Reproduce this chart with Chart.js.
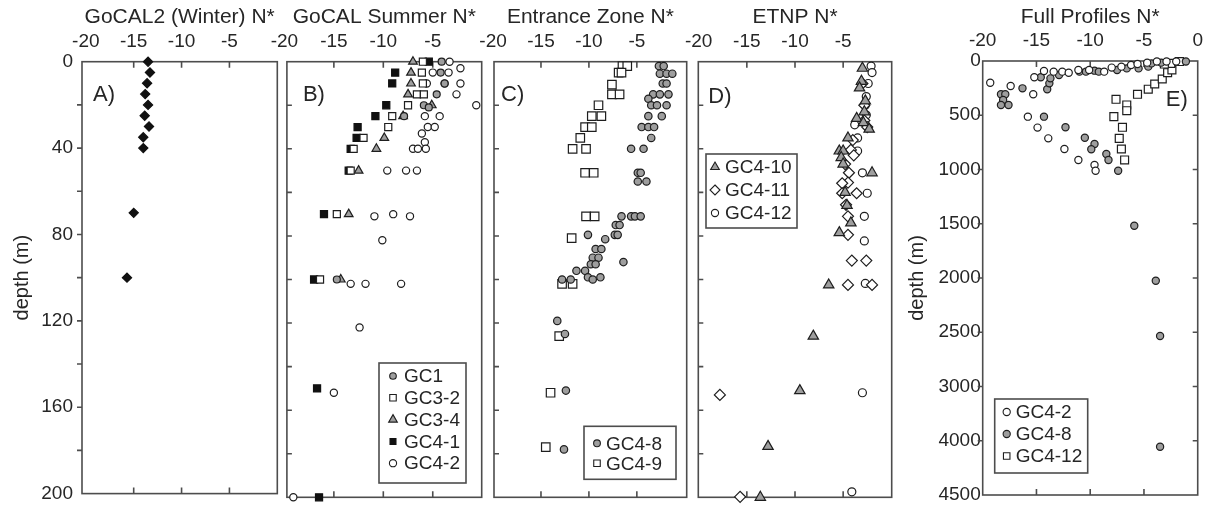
<!DOCTYPE html>
<html><head><meta charset="utf-8">
<script src="https://cdn.jsdelivr.net/npm/chart.js@4.4.1/dist/chart.umd.min.js"></script>
<style>
html,body{margin:0;padding:0;background:#fff;}
#wrap{position:relative;width:1212px;height:514px;overflow:hidden;background:#fff;}
canvas{position:absolute;top:0;}
</style></head><body><div id="wrap">
<canvas id="cA"></canvas><canvas id="cB"></canvas><canvas id="cC"></canvas><canvas id="cD"></canvas><canvas id="cE"></canvas>
</div>
<script>
// ---------------- DATA ----------------
// Panel titles
const titles = ['GoCAL2 (Winter) N*', 'GoCAL Summer N*', 'Entrance Zone N*', 'ETNP N*', 'Full Profiles N*'];
const letters = ['A)', 'B)', 'C)', 'D)', 'E)'];
// tick labels
const xTicksAD = [-20, -15, -10, -5];
const xTicksE = [-20, -15, -10, -5, 0];
const yTicksA = [0, 40, 80, 120, 160, 200];
const yTickValuesE = [0, 500, 1000, 1500, 2000, 2500, 3000, 3500, 4000];
const yTickLabelsE = ['0', '500', '1000', '1500', '2000', '2500', '3000', '4000', '4500'];

// Panel A: GoCAL2 winter
const depthA = [0, 5, 10, 15, 20, 25, 30, 35, 40, 70, 100];
const nA = [-13.5, -13.3, -13.6, -13.8, -13.5, -13.85, -13.4, -14.0, -14.0, -15.0, -15.7];

// Panel B: GoCAL summer
const depthB_GC1 = [0, 5, 10, 15, 20, 21, 25, 100];
const nB_GC1 = [-4.1, -4.2, -3.8, -4.6, -5.9, -5.4, -7.9, -14.7];
const depthB_GC32 = [0, 5, 10, 15, 15, 20, 25, 30, 35, 40, 50, 70, 100];
const nB_GC32 = [-6.0, -6.1, -6.0, -6.6, -5.9, -7.5, -9.1, -9.5, -12.0, -13.0, -13.3, -14.7, -16.4];
const depthB_GC34 = [0, 5, 10, 15, 20, 25, 35, 40, 50, 70, 100];
const nB_GC34 = [-7.0, -7.2, -7.2, -7.5, -5.1, -8.0, -9.9, -10.7, -12.5, -13.5, -14.3];
const depthB_GC41 = [0, 5, 10, 20, 25, 30, 35, 40, 50, 70, 100, 150, 200];
const nB_GC41 = [-5.4, -8.8, -9.1, -9.7, -10.8, -12.6, -12.7, -13.3, -13.5, -16.0, -17.0, -16.7, -16.5];
const depthB_GC42 = [0, 3, 5, 5, 10, 10, 10, 15, 20, 25, 25, 30, 30, 33, 37, 40, 40, 40, 50, 50, 50, 70, 71, 71, 82, 102, 102, 102, 122, 152, 200];
const nB_GC42 = [-3.3, -2.2, -5.0, -3.4, -5.6, -3.8, -2.2, -2.6, -0.6, -5.8, -4.3, -5.5, -4.8, -6.1, -5.8, -7.0, -6.5, -5.7, -9.6, -7.7, -6.6, -9.0, -10.9, -7.3, -10.1, -13.3, -11.8, -8.2, -12.4, -15.0, -19.1];

// Panel C: Entrance zone
const depthC_GC48 = [2, 2, 5.5, 5.5, 5.5, 10, 10, 15, 15, 15, 17, 20, 20, 20, 25, 25, 30, 30, 30, 35, 40, 40, 51, 51, 55, 55, 71, 71, 71, 71, 75, 75, 79.5, 79.5, 79.5, 81.5, 86, 86, 90, 90, 92, 93, 93, 96, 96, 99, 99, 100, 100, 100, 119, 125, 151, 178];
const nC_GC48 = [-2.7, -2.2, -2.6, -1.9, -1.3, -2.3, -1.9, -3.3, -2.6, -1.7, -3.8, -3.5, -2.9, -1.9, -3.8, -2.4, -4.5, -3.8, -3.2, -3.5, -5.6, -4.3, -4.9, -4.6, -4.9, -4.0, -6.6, -5.6, -5.2, -4.6, -7.2, -6.8, -10.1, -7.3, -7.0, -8.3, -9.3, -8.7, -9.6, -9.0, -6.4, -9.8, -9.3, -11.3, -10.4, -10.1, -8.8, -12.8, -11.9, -9.6, -13.3, -12.5, -12.4, -12.6];
const depthC_GC49 = [2, 2, 5, 5, 10.5, 15, 15, 20, 25, 25, 30, 30, 35, 40, 40, 51, 51, 71, 71, 81, 102, 102, 126, 152, 177];
const nC_GC49 = [-6.5, -6.0, -6.9, -6.6, -7.6, -7.6, -6.8, -9.0, -9.7, -8.7, -10.4, -9.7, -10.9, -11.7, -10.3, -10.4, -9.5, -10.3, -9.4, -11.8, -12.8, -11.7, -13.1, -14.0, -14.5];

// Panel D: ETNP
const depthD_GC410 = [3, 9, 12, 18, 23, 26, 28, 31, 35, 41, 41, 44, 47, 51, 60, 66, 74, 78.5, 102.5, 126, 151, 176.6, 200];
const nD_GC410 = [-3.0, -3.1, -3.3, -2.7, -2.8, -3.6, -2.9, -2.3, -4.5, -5.4, -5.0, -5.2, -5.0, -2.0, -4.8, -4.6, -4.2, -5.4, -6.5, -8.1, -9.5, -12.8, -13.6];
const depthD_GC411 = [10, 20, 27, 30, 36, 40.5, 43, 47, 51, 55.5, 55.8, 60.4, 60.4, 65.7, 71, 79.5, 91.3, 91.3, 102.5, 102.5, 153, 199.8];
const nD_GC411 = [-3.0, -2.8, -2.8, -2.5, -4.0, -4.2, -3.9, -4.8, -4.4, -4.5, -5.1, -5.1, -3.6, -4.7, -4.5, -4.5, -4.1, -2.6, -4.5, -2.0, -17.8, -15.7];
const depthD_GC412 = [2, 5, 10, 16, 20, 24.5, 29, 35, 41, 51, 60.4, 71, 82.3, 101.8, 152, 197.5];
const nD_GC412 = [-2.1, -2.0, -2.4, -2.6, -2.7, -2.6, -3.8, -3.5, -3.5, -3.0, -2.5, -2.8, -2.8, -2.7, -3.0, -4.1];

// Panel E: full profiles
const depthE_GC42 = [200, 230, 307, 150, 92, 98, 98, 108, 83, 83, 98, 61, 52, 37, 28, 15, 5, 5, 5, 513, 614, 713, 811, 912, 959, 1011];
const nE_GC42 = [-19.3, -17.4, -15.3, -15.2, -14.3, -13.4, -12.6, -12.0, -11.1, -10.1, -8.7, -8.0, -7.1, -6.2, -5.6, -4.7, -3.8, -2.9, -2.0, -15.8, -14.9, -13.9, -12.4, -11.1, -9.6, -9.5];
const depthE_GC48 = [307, 307, 359, 405, 405, 252, 260, 206, 160, 150, 129, 98, 98, 89, 98, 83, 68, 68, 52, 22, 15, 5, 513, 611, 707, 765, 814, 857, 912, 1011, 1518, 2025, 2535, 3555];
const nE_GC48 = [-18.3, -17.9, -18.1, -18.3, -17.6, -16.3, -14.0, -13.8, -13.7, -14.6, -12.9, -11.0, -10.4, -9.6, -9.2, -7.5, -6.6, -5.5, -4.6, -4.3, -3.4, -1.1, -14.3, -12.3, -10.5, -9.6, -9.9, -8.5, -8.3, -7.4, -5.9, -3.9, -3.5, -3.5];
const depthE_GC412 = [353, 405, 458, 513, 611, 713, 811, 912, 307, 260, 212, 166, 108, 83, 22, 28, 5];
const nE_GC412 = [-7.6, -6.6, -6.6, -7.8, -7.0, -7.3, -7.1, -6.8, -5.6, -4.6, -4.0, -3.3, -2.8, -2.4, -2.5, -3.1, -1.7];

// ---------------- STYLE ----------------
const FONT = "'Liberation Sans', Arial, Helvetica, sans-serif";
const TEXT = '#262626';
const FRAME = '#4d4d4d';
const EDGE = '#1e1e1e';
const GRAY = '#9e9e9e';

const STY = {
  grayCircle:   {pointStyle: 'circle',   backgroundColor: GRAY,   borderColor: EDGE},
  openCircle:   {pointStyle: 'circle',   backgroundColor: '#fff', borderColor: EDGE},
  openSquare:   {pointStyle: 'rect',     backgroundColor: '#fff', borderColor: EDGE},
  grayTri:      {pointStyle: 'triangle', backgroundColor: GRAY,   borderColor: EDGE},
  blackSquare:  {pointStyle: 'rect',     backgroundColor: '#111', borderColor: '#111'},
  blackDiamond: {pointStyle: 'rectRot',  backgroundColor: '#111', borderColor: '#111'},
  openDiamond:  {pointStyle: 'rectRot',  backgroundColor: '#fff', borderColor: EDGE}
};

function pts(ns, ds) { return ns.map((v, i) => ({x: v, y: ds[i]})); }
function ds(label, ns, dsArr, sty, r, lr) {
  return Object.assign({label, data: pts(ns, dsArr), pointRadius: r, pointHoverRadius: r,
    borderWidth: 1.2, showLine: false, clip: false, legendRadius: lr}, sty);
}

function drawMarker(ctx, style, x, y, r, fill, stroke, lw) {
  ctx.save();
  ctx.fillStyle = fill; ctx.strokeStyle = stroke; ctx.lineWidth = lw;
  ctx.beginPath();
  if (style === 'circle') { ctx.arc(x, y, r, 0, Math.PI * 2); }
  else if (style === 'rect') { const s = r * Math.SQRT2; ctx.rect(x - s / 2, y - s / 2, s, s); }
  else if (style === 'triangle') {
    for (let k = 0; k < 3; k++) { const a = -Math.PI / 2 + k * 2 * Math.PI / 3; const px = x + Math.cos(a) * r, py = y + Math.sin(a) * r; k ? ctx.lineTo(px, py) : ctx.moveTo(px, py); }
    ctx.closePath();
  } else if (style === 'rectRot') {
    ctx.moveTo(x, y - r); ctx.lineTo(x + r, y); ctx.lineTo(x, y + r); ctx.lineTo(x - r, y); ctx.closePath();
  }
  ctx.fill(); ctx.stroke(); ctx.restore();
}

const panelPlugin = {
  id: 'panel',
  beforeDatasetsDraw(chart, args, o) {
    const {ctx, chartArea: a, scales: {x, y}} = chart;
    ctx.save();
    ctx.strokeStyle = FRAME; ctx.lineWidth = 1.6;
    ctx.strokeRect(a.left, a.top, a.right - a.left, a.bottom - a.top);
    ctx.beginPath();
    (o.xMarks || []).forEach(v => {
      const px = x.getPixelForValue(v);
      ctx.moveTo(px, a.top); ctx.lineTo(px, a.top + 6);
      ctx.moveTo(px, a.bottom); ctx.lineTo(px, a.bottom - 6);
    });
    (o.yMarksLeft || []).forEach(v => {
      const py = y.getPixelForValue(v);
      ctx.moveTo(a.left, py); ctx.lineTo(a.left + (o.leftOut ? -5 : 5), py);
    });
    (o.yMarksRight || []).forEach(v => {
      const py = y.getPixelForValue(v);
      ctx.moveTo(a.right, py); ctx.lineTo(a.right - 5, py);
    });
    ctx.stroke();
    ctx.restore();
  },
  afterDraw(chart, args, o) {
    const {ctx, chartArea: a} = chart;
    ctx.save();
    ctx.fillStyle = TEXT;
    ctx.font = '22px ' + FONT;
    ctx.textBaseline = 'middle'; ctx.textAlign = 'left';
    const lx = o.letterRight ? a.right - o.letterDx : a.left + o.letterDx;
    ctx.fillText(o.letter, lx, a.top + o.letterDy);
    const L = o.legend;
    if (L) {
      const bx = L.right != null ? a.right - L.right - L.w : a.left + L.left;
      const by = L.bottom != null ? a.bottom - L.bottom - L.h : a.top + L.top;
      ctx.fillStyle = '#fff';
      ctx.fillRect(bx, by, L.w, L.h);
      ctx.strokeStyle = FRAME; ctx.lineWidth = 1.6;
      ctx.strokeRect(bx, by, L.w, L.h);
      ctx.font = '19px ' + FONT;
      chart.data.datasets.forEach((d, i) => {
        const yy = by + L.row0 + i * L.gap;
        drawMarker(ctx, d.pointStyle, bx + L.mx, yy, d.legendRadius, d.backgroundColor, d.borderColor, 1.1);
        ctx.fillStyle = TEXT;
        ctx.fillText(d.label, bx + L.tx, yy + 1);
      });
    }
    ctx.restore();
  }
};

function makePanel(p) {
  const cv = document.getElementById(p.id);
  cv.width = p.width; cv.height = 514;
  cv.style.left = p.left + 'px'; cv.style.width = p.width + 'px'; cv.style.height = '514px';
  const tickFont = {family: FONT, size: 19};
  return new Chart(cv, {
    type: 'scatter',
    data: {datasets: p.datasets},
    plugins: [panelPlugin],
    options: {
      responsive: false, animation: false, devicePixelRatio: 1,
      layout: {padding: {left: 0, top: 0, right: p.left + p.width - p.box.r, bottom: 514 - p.box.b}},
      plugins: {
        legend: {display: false}, tooltip: {enabled: false},
        panel: p.panel
      },
      scales: {
        x: {
          type: 'linear', position: 'top', min: p.xMin, max: p.xMax,
          grid: {display: false, drawTicks: false}, border: {display: false},
          afterBuildTicks: s => { s.ticks = p.xTicks.map(v => ({value: v})); },
          afterFit: s => { s.height = p.box.t; },
          ticks: {autoSkip: false, maxRotation: 0, minRotation: 0, padding: 9, color: TEXT, font: tickFont,
                  callback: v => String(v)},
          title: {display: true, text: p.title, color: TEXT, font: {family: FONT, size: 21}, padding: {top: 5, bottom: 0}}
        },
        y: {
          type: 'linear', position: 'left', reverse: true, min: p.yMin, max: p.yMax,
          grid: {display: false, drawTicks: false}, border: {display: false},
          afterBuildTicks: s => { s.ticks = p.yTicks.map(v => ({value: v})); },
          afterFit: s => { s.width = p.box.l - p.left; },
          ticks: {display: p.showY, autoSkip: false, padding: p.yPad, color: TEXT, font: tickFont,
                  callback: (v, i) => p.yLabels ? p.yLabels[i] : String(v)},
          title: {display: !!p.yTitle, text: p.yTitle || '', color: TEXT, font: {family: FONT, size: 20}, padding: {top: 10, bottom: 0}}
        }
      }
    }
  });
}

const marks20 = [20, 40, 60, 80, 100, 120, 140, 160, 180];

makePanel({
  id: 'cA', left: 0, width: 285, box: {l: 82, r: 277.3, t: 61.7, b: 497.3},
  xMin: -20.4, xMax: 0, yMin: 0, yMax: 200, xTicks: xTicksAD, yTicks: yTicksA, showY: true, yPad: 9,
  title: titles[0], yTitle: 'depth (m)',
  datasets: [ds('GoCAL2', nA, depthA, STY.blackDiamond, 4.6, 4)],
  panel: {xMarks: [-15, -10, -5], yMarksLeft: marks20, leftOut: true, letter: letters[0], letterDx: 11, letterDy: 33}
});

makePanel({
  id: 'cB', left: 262, width: 230, box: {l: 286, r: 481.7, t: 61.7, b: 497.3},
  xMin: -19.75, xMax: -0.05, yMin: 0, yMax: 200, xTicks: xTicksAD, yTicks: yTicksA, showY: false, yPad: 9,
  title: titles[1],
  datasets: [
    ds('GC1', nB_GC1, depthB_GC1, STY.grayCircle, 3.5, 3.3),
    ds('GC3-2', nB_GC32, depthB_GC32, STY.openSquare, 5, 4.6),
    ds('GC3-4', nB_GC34, depthB_GC34, STY.grayTri, 5, 5),
    ds('GC4-1', nB_GC41, depthB_GC41, STY.blackSquare, 5, 4.2),
    ds('GC4-2', nB_GC42, depthB_GC42, STY.openCircle, 3.6, 3.6)
  ],
  panel: {xMarks: [-15, -10, -5], yMarksLeft: marks20, leftOut: false, letter: letters[1], letterDx: 16, letterDy: 33,
          legend: {right: 15.7, bottom: 14.3, w: 87, h: 120, row0: 13, gap: 21.8, mx: 14, tx: 25}}
});

makePanel({
  id: 'cC', left: 470, width: 225, box: {l: 494, r: 686.7, t: 61.7, b: 497.3},
  xMin: -19.9, xMax: 0.2, yMin: 0, yMax: 200, xTicks: xTicksAD, yTicks: yTicksA, showY: false, yPad: 9,
  title: titles[2],
  datasets: [
    ds('GC4-8', nC_GC48, depthC_GC48, STY.grayCircle, 3.7, 3.4),
    ds('GC4-9', nC_GC49, depthC_GC49, STY.openSquare, 6, 4.6)
  ],
  panel: {xMarks: [-15, -10, -5], yMarksLeft: marks20, leftOut: false, letter: letters[2], letterDx: 7, letterDy: 33,
          legend: {right: 10.7, bottom: 18, w: 92, h: 53, row0: 17, gap: 20, mx: 13, tx: 22}}
});

makePanel({
  id: 'cD', left: 675, width: 225, box: {l: 698.3, r: 891.7, t: 61.7, b: 497.3},
  xMin: -20.04, xMax: 0.04, yMin: 0, yMax: 200, xTicks: xTicksAD, yTicks: yTicksA, showY: false, yPad: 9,
  title: titles[3],
  datasets: [
    ds('GC4-10', nD_GC410, depthD_GC410, STY.grayTri, 6, 5),
    ds('GC4-11', nD_GC411, depthD_GC411, STY.openDiamond, 5.5, 5),
    ds('GC4-12', nD_GC412, depthD_GC412, STY.openCircle, 4, 3.6)
  ],
  panel: {xMarks: [-15, -10, -5], yMarksLeft: marks20, leftOut: false, letter: letters[3], letterDx: 10, letterDy: 35,
          legend: {left: 7.7, top: 92.3, w: 91, h: 74, row0: 13, gap: 23, mx: 9, tx: 19}}
});

makePanel({
  id: 'cE', left: 895, width: 317, box: {l: 982.7, r: 1205, t: 61, b: 495},
  xMin: -20, xMax: 0, yMin: 0, yMax: 4000, xTicks: xTicksE, yTicks: yTickValuesE, yLabels: yTickLabelsE, showY: true, yPad: 2,
  title: titles[4], yTitle: 'depth (m)',
  datasets: [
    ds('GC4-2', nE_GC42, depthE_GC42, STY.openCircle, 3.6, 3.6),
    ds('GC4-8', nE_GC48, depthE_GC48, STY.grayCircle, 3.6, 3.6),
    ds('GC4-12', nE_GC412, depthE_GC412, STY.openSquare, 5.6, 4.6)
  ],
  panel: {xMarks: [-15, -10, -5], yMarksLeft: [500, 1000, 1500, 2000, 2500, 3000, 3500], leftOut: true,
          yMarksRight: [500, 1000, 1500, 2000, 2500, 3000, 3500],
          letter: letters[4], letterRight: true, letterDx: 32, letterDy: 39,
          legend: {left: 12, bottom: 22, w: 93, h: 74, row0: 13, gap: 22, mx: 12, tx: 21}}
});
</script>
</body></html>
